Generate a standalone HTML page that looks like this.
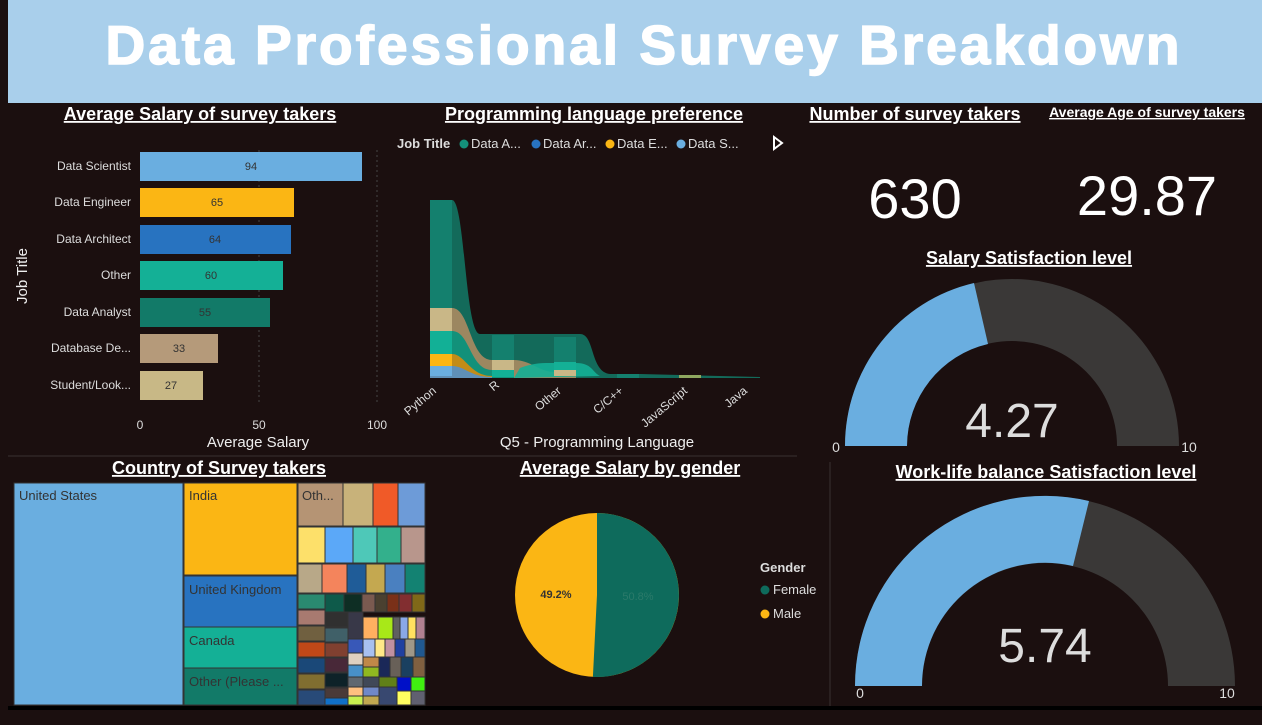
<!DOCTYPE html>
<html><head><style>
body{margin:0;width:1262px;height:720px;background:#1b0f0f;overflow:hidden;font-family:"Liberation Sans",sans-serif}
</style></head><body>
<svg width="1262" height="720" xmlns="http://www.w3.org/2000/svg" font-family="Liberation Sans, sans-serif">
<rect width="1262" height="720" fill="#1b0f0f"/>
<rect x="8" y="0" width="1254" height="103" fill="#a9cfeb"/>
<text x="644" y="64" text-anchor="middle" font-size="55" font-weight="bold" fill="#fff" letter-spacing="3" stroke="#fff" stroke-width="1.5">Data Professional Survey Breakdown</text>
<line x1="8" y1="456" x2="797" y2="456" stroke="#3a3030"/>
<line x1="830" y1="462" x2="830" y2="706" stroke="#3a3030"/>
<line x1="8" y1="708" x2="1262" y2="708" stroke="#000" stroke-width="4"/>
<g fill="#fff" font-weight="bold" text-decoration="underline">
<text x="200" y="120" text-anchor="middle" font-size="18">Average Salary of survey takers</text>
<text x="594" y="120" text-anchor="middle" font-size="18">Programming language preference</text>
<text x="915" y="120" text-anchor="middle" font-size="18">Number of survey takers</text>
<text x="1147" y="117" text-anchor="middle" font-size="14">Average Age of survey takers</text>
<text x="1029" y="264" text-anchor="middle" font-size="18">Salary Satisfaction level</text>
<text x="1046" y="478" text-anchor="middle" font-size="18">Work-life balance Satisfaction level</text>
<text x="219" y="474" text-anchor="middle" font-size="18">Country of Survey takers</text>
<text x="630" y="474" text-anchor="middle" font-size="18">Average Salary by gender</text>
</g>
<line x1="259" y1="150" x2="259" y2="405" stroke="#444" stroke-dasharray="2,3"/>
<line x1="377" y1="150" x2="377" y2="405" stroke="#444" stroke-dasharray="2,3"/>
<g font-size="12" fill="#ddd" text-anchor="end">
<text x="131" y="170">Data Scientist</text><text x="131" y="206">Data Engineer</text><text x="131" y="243">Data Architect</text><text x="131" y="279">Other</text><text x="131" y="316">Data Analyst</text><text x="131" y="352">Database De...</text><text x="131" y="389">Student/Look...</text>
</g>
<rect x="140" y="152" width="222" height="29" fill="#6aaee0"/>
<rect x="140" y="188" width="154" height="29" fill="#fbb614"/>
<rect x="140" y="225" width="151" height="29" fill="#2873c0"/>
<rect x="140" y="261" width="143" height="29" fill="#14b096"/>
<rect x="140" y="298" width="130" height="29" fill="#127a68"/>
<rect x="140" y="334" width="78" height="29" fill="#b59a7a"/>
<rect x="140" y="371" width="63" height="29" fill="#c8b886"/>
<g font-size="11" fill="#333" text-anchor="middle">
<text x="251" y="170">94</text><text x="217" y="206">65</text><text x="215" y="243">64</text><text x="211" y="279">60</text><text x="205" y="316">55</text><text x="179" y="352">33</text><text x="171" y="389">27</text>
</g>
<g font-size="12" fill="#ddd" text-anchor="middle"><text x="140" y="429">0</text><text x="259" y="429">50</text><text x="377" y="429">100</text></g>
<text x="258" y="447" text-anchor="middle" font-size="15" fill="#eee">Average Salary</text>
<text x="27" y="276" text-anchor="middle" font-size="15" fill="#eee" transform="rotate(-90 27 276)">Job Title</text>
<g font-size="13" fill="#ddd">
<text x="397" y="148" font-weight="bold">Job Title</text>
<circle cx="464" cy="144" r="4.5" fill="#14907a"/><text x="471" y="148">Data A...</text>
<circle cx="536" cy="144" r="4.5" fill="#2873c0"/><text x="543" y="148">Data Ar...</text>
<circle cx="610" cy="144" r="4.5" fill="#fbb614"/><text x="617" y="148">Data E...</text>
<circle cx="681" cy="144" r="4.5" fill="#6aaee0"/><text x="688" y="148">Data S...</text>
</g>
<path d="M774 137 L782 143 L774 149 Z" fill="none" stroke="#fff" stroke-width="2"/>
<path d="M430 200 H452 C465 200 465 334 480 334 H580 C595 334 590 372 610 374 H640 L760 377 V378 H430 Z" fill="#136a5a"/>
<path d="M430 308 H452 C470 308 470 360 492 360 H514 C530 360 540 372 554 372 H576 V378 H430Z" fill="#9c8760"/>
<path d="M430 331 H452 C470 331 470 370 492 370 H514 V378 H430Z" fill="#12917a"/>
<path d="M520 368 C535 362 545 363 560 363 H576 C592 363 592 372 600 376 L514 378 Z" fill="#14b096" opacity=".9"/>
<path d="M430 354 H452 C465 354 470 376 492 376 V378 H430Z" fill="#c28c18"/>
<path d="M430 366 H452 C465 366 470 377 492 377 V378 H430Z" fill="#5f90b8"/>
<rect x="430" y="200" width="22" height="108" fill="#14806e"/>
<rect x="430" y="308" width="22" height="23" fill="#c9b787"/>
<rect x="430" y="331" width="22" height="23" fill="#12b096"/>
<rect x="430" y="354" width="22" height="12" fill="#fbb614"/>
<rect x="430" y="366" width="22" height="10" fill="#6aaee0"/>
<rect x="492" y="335" width="22" height="25" fill="#14806e"/>
<rect x="492" y="360" width="22" height="10" fill="#c9b787"/>
<rect x="492" y="370" width="22" height="7" fill="#12b096"/>
<rect x="554" y="337" width="22" height="25" fill="#14806e"/>
<rect x="554" y="362" width="22" height="8" fill="#14b096"/>
<rect x="554" y="370" width="22" height="6" fill="#c9b787"/>
<rect x="617" y="374" width="22" height="4" fill="#14806e"/>
<rect x="679" y="375" width="22" height="3" fill="#8fa860"/>
<g font-size="12" fill="#ddd" text-anchor="end">
<text transform="translate(437 392) rotate(-40)">Python</text>
<text transform="translate(500 386) rotate(-40)">R</text>
<text transform="translate(562 392) rotate(-40)">Other</text>
<text transform="translate(624 392) rotate(-40)">C/C++</text>
<text transform="translate(688 392) rotate(-40)">JavaScript</text>
<text transform="translate(748 392) rotate(-40)">Java</text>
</g>
<text x="597" y="447" text-anchor="middle" font-size="15" fill="#eee">Q5 - Programming Language</text>
<text x="915" y="218" text-anchor="middle" font-size="56" fill="#fff">630</text>
<text x="1147" y="215" text-anchor="middle" font-size="56" fill="#fff">29.87</text>
<path d="M845 446 A167 167 0 0 1 1179 446 L1117 446 A105 105 0 0 0 907 446 Z" fill="#3a3837"/>
<path d="M845 446 A167 167 0 0 1 974 283 L988 344 A105 105 0 0 0 907 446 Z" fill="#6aaee0"/>
<text x="1012" y="437" text-anchor="middle" font-size="48" fill="#ddd">4.27</text>
<text x="836" y="452" text-anchor="middle" font-size="14" fill="#ddd">0</text>
<text x="1189" y="452" text-anchor="middle" font-size="14" fill="#ddd">10</text>
<path d="M855 686 A190 190 0 0 1 1235 686 L1168 686 A123 123 0 0 0 922 686 Z" fill="#3a3837"/>
<path d="M855 686 A190 190 0 0 1 1089 501 L1073 566 A123 123 0 0 0 922 686 Z" fill="#6aaee0"/>
<text x="1045" y="662" text-anchor="middle" font-size="48" fill="#ddd">5.74</text>
<text x="860" y="698" text-anchor="middle" font-size="14" fill="#ddd">0</text>
<text x="1227" y="698" text-anchor="middle" font-size="14" fill="#ddd">10</text>
<circle cx="597" cy="595" r="82" fill="#fbb614"/>
<path d="M597 595 L597 513 A82 82 0 1 1 592.9 676.9 Z" fill="#0e6b5c"/>
<text x="556" y="598" text-anchor="middle" font-size="11" fill="#333" font-weight="bold">49.2%</text>
<text x="638" y="600" text-anchor="middle" font-size="11" fill="#2b7a6a">50.8%</text>
<g font-size="13" fill="#ddd">
<text x="760" y="572" font-weight="bold">Gender</text>
<circle cx="765" cy="590" r="4.5" fill="#0e6b5c"/><text x="773" y="594">Female</text>
<circle cx="765" cy="614" r="4.5" fill="#fbb614"/><text x="773" y="618">Male</text>
</g>
<g stroke="#333" stroke-width="1">
<rect x="14" y="483" width="169" height="222" fill="#6aaee0"/>
<rect x="184" y="483" width="113" height="92" fill="#fbb614"/>
<rect x="184" y="576" width="113" height="51" fill="#2873c0"/>
<rect x="184" y="627" width="113" height="41" fill="#14b096"/>
<rect x="184" y="668" width="113" height="37" fill="#127a68"/>
<rect x="298" y="483" width="45" height="43" fill="#b59474"/>
<rect x="343" y="483" width="30" height="43" fill="#c8b27a"/>
<rect x="373" y="483" width="25" height="43" fill="#f05a28"/>
<rect x="398" y="483" width="27" height="43" fill="#6d9bd8"/>
<rect x="298" y="527" width="27" height="36" fill="#fde06a"/>
<rect x="325" y="527" width="28" height="36" fill="#5ba8f8"/>
<rect x="353" y="527" width="24" height="36" fill="#4ec8b8"/>
<rect x="377" y="527" width="24" height="36" fill="#33b08c"/>
<rect x="401" y="527" width="24" height="36" fill="#b8968c"/>
<rect x="298" y="564" width="24" height="29" fill="#b8a888"/>
<rect x="322" y="564" width="25" height="29" fill="#f4845c"/>
<rect x="347" y="564" width="19" height="29" fill="#1f5c98"/>
<rect x="366" y="564" width="19" height="29" fill="#c4a850"/>
<rect x="385" y="564" width="20" height="29" fill="#4a80c0"/>
<rect x="405" y="564" width="20" height="29" fill="#138272"/>
<rect x="298" y="594" width="27" height="15" fill="#2a8a70"/>
<rect x="325" y="594" width="19" height="18" fill="#0e5a4a"/>
<rect x="344" y="594" width="18" height="18" fill="#0e2e24"/>
<rect x="362" y="594" width="13" height="18" fill="#7a5a50"/>
<rect x="375" y="594" width="12" height="18" fill="#4a4030"/>
<rect x="387" y="594" width="12" height="18" fill="#7a3018"/>
<rect x="399" y="594" width="13" height="18" fill="#822e30"/>
<rect x="412" y="594" width="13" height="18" fill="#806818"/>
<rect x="298" y="610" width="27" height="15" fill="#a87a70"/>
<rect x="298" y="626" width="27" height="15" fill="#706040"/>
<rect x="298" y="642" width="27" height="15" fill="#c04818"/>
<rect x="298" y="658" width="27" height="15" fill="#1a4878"/>
<rect x="298" y="674" width="27" height="15" fill="#806e30"/>
<rect x="298" y="690" width="27" height="15" fill="#284a78"/>
<rect x="325" y="612" width="23" height="15" fill="#303030"/>
<rect x="325" y="628" width="23" height="14" fill="#406068"/>
<rect x="325" y="643" width="23" height="14" fill="#804030"/>
<rect x="325" y="658" width="23" height="14" fill="#482838"/>
<rect x="325" y="673" width="23" height="14" fill="#0e2228"/>
<rect x="325" y="688" width="23" height="10" fill="#4a3a38"/>
<rect x="325" y="698" width="23" height="7" fill="#1070c8"/>
<rect x="348" y="612" width="15" height="27" fill="#383848"/>
<rect x="363" y="617" width="15" height="22" fill="#ffb060"/>
<rect x="378" y="617" width="15" height="22" fill="#a8e818"/>
<rect x="393" y="617" width="7" height="22" fill="#606060"/>
<rect x="400" y="617" width="8" height="22" fill="#8aa8e8"/>
<rect x="408" y="617" width="8" height="22" fill="#ffe060"/>
<rect x="416" y="617" width="9" height="22" fill="#b08090"/>
<rect x="348" y="639" width="15" height="14" fill="#3858b8"/>
<rect x="348" y="653" width="15" height="12" fill="#e0d0c0"/>
<rect x="348" y="665" width="15" height="12" fill="#4890c8"/>
<rect x="348" y="677" width="15" height="10" fill="#606870"/>
<rect x="348" y="687" width="15" height="9" fill="#ffc080"/>
<rect x="348" y="696" width="15" height="9" fill="#c8f050"/>
<rect x="363" y="639" width="12" height="18" fill="#a8c0f0"/>
<rect x="375" y="639" width="10" height="18" fill="#ffe888"/>
<rect x="385" y="639" width="10" height="18" fill="#c090a0"/>
<rect x="395" y="639" width="10" height="18" fill="#2040a0"/>
<rect x="405" y="639" width="10" height="18" fill="#a09888"/>
<rect x="415" y="639" width="10" height="18" fill="#205890"/>
<rect x="363" y="657" width="16" height="10" fill="#c08848"/>
<rect x="363" y="667" width="16" height="10" fill="#90b820"/>
<rect x="363" y="677" width="16" height="10" fill="#404858"/>
<rect x="363" y="687" width="16" height="9" fill="#7088c8"/>
<rect x="363" y="696" width="16" height="9" fill="#c0a850"/>
<rect x="379" y="657" width="11" height="20" fill="#1a2858"/>
<rect x="390" y="657" width="11" height="20" fill="#686058"/>
<rect x="401" y="657" width="12" height="20" fill="#1a4060"/>
<rect x="413" y="657" width="12" height="20" fill="#806040"/>
<rect x="379" y="677" width="18" height="10" fill="#608018"/>
<rect x="397" y="677" width="14" height="14" fill="#0010c8"/>
<rect x="411" y="677" width="14" height="14" fill="#40f010"/>
<rect x="379" y="687" width="18" height="18" fill="#384870"/>
<rect x="397" y="691" width="14" height="14" fill="#ffff60"/>
<rect x="411" y="691" width="14" height="14" fill="#606070"/>
</g>
<g font-size="13" fill="#333">
<text x="19" y="500">United States</text>
<text x="189" y="500">India</text>
<text x="189" y="594">United Kingdom</text>
<text x="189" y="645">Canada</text>
<text x="189" y="686">Other (Please ...</text>
<text x="302" y="500">Oth...</text>
</g>
</svg>
</body></html>
